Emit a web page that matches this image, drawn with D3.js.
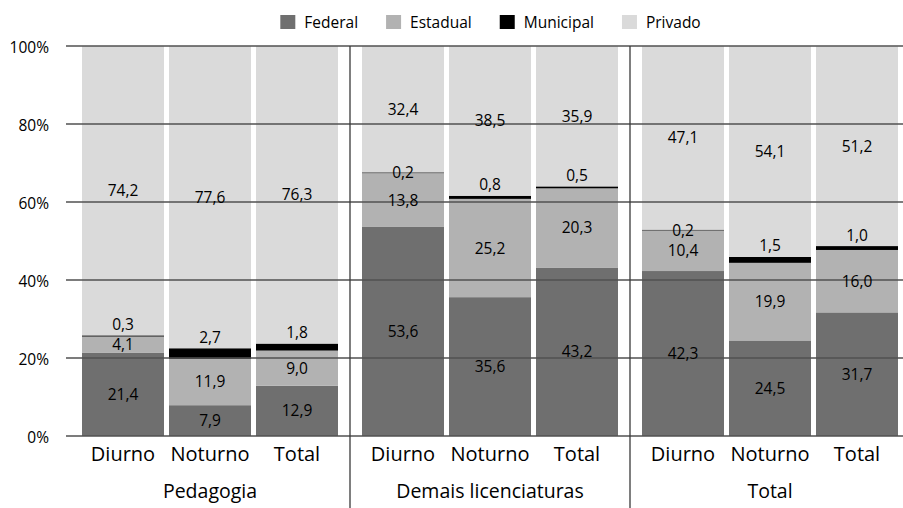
<!DOCTYPE html>
<html>
<head>
<meta charset="utf-8">
<script src="https://cdn.jsdelivr.net/npm/d3@7"></script>
<style>
  body { margin: 0; background: #fff; }
  svg { display: block; font-family: "Open Sans", "DejaVu Sans", sans-serif; }
</style>
</head>
<body>
<svg id="chart" width="903" height="508"></svg>
<script>
// ---- Data ----
const groups = ["Pedagogia", "Demais licenciaturas", "Total"];
const periods = ["Diurno", "Noturno", "Total"];
const seriesNames = ["Federal", "Estadual", "Municipal", "Privado"];
const federal   = [21.4, 7.9, 12.9, 53.6, 35.6, 43.2, 42.3, 24.5, 31.7];
const estadual  = [4.1, 11.9, 9.0, 13.8, 25.2, 20.3, 10.4, 19.9, 16.0];
const municipal = [0.3, 2.7, 1.8, 0.2, 0.8, 0.5, 0.2, 1.5, 1.0];
const privado   = [74.2, 77.6, 76.3, 32.4, 38.5, 35.9, 47.1, 54.1, 51.2];
const yTicks = [0, 20, 40, 60, 80, 100];

// ---- Build table ----
const rows = [];
groups.forEach((g, gi) => periods.forEach((p, pi) => {
  const i = gi * periods.length + pi;
  rows.push({ group: g, period: p, Federal: federal[i], Estadual: estadual[i], Municipal: municipal[i], Privado: privado[i] });
}));

const colors = { Federal: "#6f6f6f", Estadual: "#b2b2b2", Municipal: "#000000", Privado: "#dadada" };

const svg = d3.select("#chart");
const x0Left = 66, x0Right = 903;
const y = d3.scaleLinear().domain([0, 100]).range([436, 46]).clamp(true);

const xg = d3.scaleBand().domain(groups).range([82, 898]).paddingInner(24 / 280).paddingOuter(0);
const xp = d3.scaleBand().domain(periods).range([0, xg.bandwidth()]).paddingInner(5 / 87).paddingOuter(0);

const stacked = d3.stack().keys(seriesNames)(rows);

const fmt = v => d3.format(".1f")(v).replace(".", ",");

// Bars
const layers = svg.append("g").selectAll("g").data(stacked).join("g")
  .attr("fill", d => colors[d.key]);
layers.selectAll("rect").data(d => d).join("rect")
  .attr("x", d => xg(d.data.group) + xp(d.data.period))
  .attr("width", xp.bandwidth())
  .attr("y", d => y(d[1]))
  .attr("height", d => Math.max(0, y(d[0]) - y(d[1])));

// Gridlines (over bars)
svg.append("g").selectAll("line").data(yTicks).join("line")
  .attr("x1", x0Left).attr("x2", x0Right)
  .attr("y1", d => y(d)).attr("y2", d => y(d))
  .attr("stroke", "#505050").attr("stroke-width", 1.4);

// Group separators
const seps = groups.slice(1).map(g => xg(g) - (xg.step() - xg.bandwidth()) / 2);
svg.append("g").selectAll("line").data(seps).join("line")
  .attr("x1", d => d).attr("x2", d => d)
  .attr("y1", y(100)).attr("y2", 508)
  .attr("stroke", "#3a3a3a").attr("stroke-width", 1.3);

// Y labels
svg.append("g").selectAll("text").data(yTicks).join("text")
  .attr("x", 49).attr("y", d => y(d) + 7)
  .attr("text-anchor", "end").attr("font-size", 15.5).attr("fill", "#000")
  .text(d => d + "%");

// Value labels
const labG = svg.append("g").attr("font-size", 15.5).attr("fill", "#000").attr("text-anchor", "middle");
stacked.forEach(layer => {
  layer.forEach(d => {
    const v = d.data[layer.key];
    const cx = xg(d.data.group) + xp(d.data.period) + xp.bandwidth() / 2;
    let yy;
    if (layer.key === "Municipal" && v >= 0.3) {
      yy = y(d[1]) - 5.5;
    } else {
      yy = (y(d[0]) + y(d[1])) / 2 + 5.5;
    }
    labG.append("text").attr("x", cx).attr("y", yy).text(fmt(v));
  });
});

// Category labels
svg.append("g").selectAll("text").data(rows).join("text")
  .attr("x", d => xg(d.group) + xp(d.period) + xp.bandwidth() / 2)
  .attr("y", 461).attr("text-anchor", "middle").attr("font-size", 20).attr("fill", "#000")
  .text(d => d.period);

// Group labels
svg.append("g").selectAll("text").data(groups).join("text")
  .attr("x", d => xg(d) + xg.bandwidth() / 2)
  .attr("y", 498).attr("text-anchor", "middle").attr("font-size", 19.5).attr("fill", "#000")
  .text(d => d);

// Legend
const leg = svg.append("g");
const items = leg.selectAll("g").data(seriesNames).join("g");
items.append("rect").attr("width", 15).attr("height", 14).attr("y", 15)
  .attr("fill", d => colors[d]);
items.append("text").attr("x", 24).attr("y", 28).attr("font-size", 15.5).attr("fill", "#000").text(d => d);
const widths = [];
items.each(function () {
  widths.push(24 + this.querySelector("text").getComputedTextLength());
});
const gap = 28;
const total = d3.sum(widths) + gap * (widths.length - 1);
let start = 490.5 - total / 2;
items.attr("transform", (d, i) => {
  const t = `translate(${start},0)`;
  start += widths[i] + gap;
  return t;
});
</script>
</body>
</html>
